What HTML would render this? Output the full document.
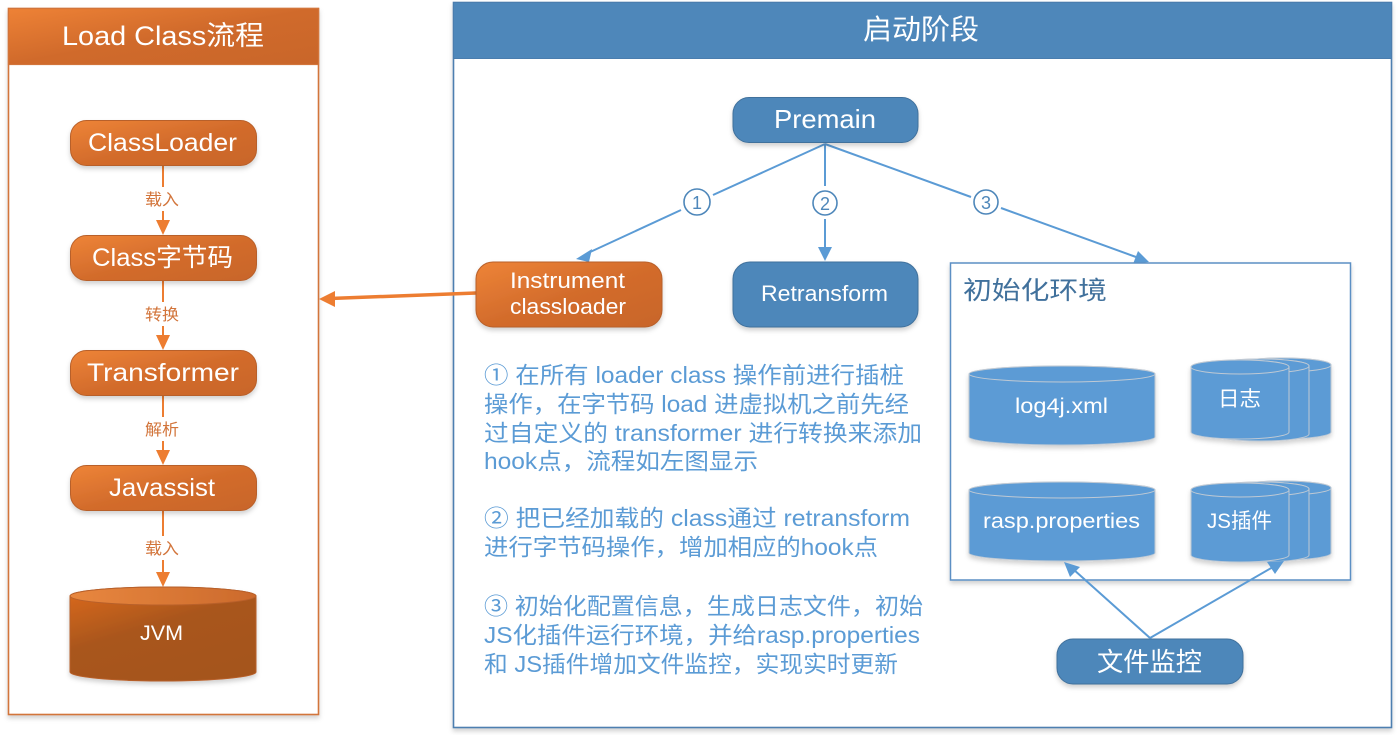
<!DOCTYPE html>
<html><head><meta charset="utf-8">
<style>
html,body{margin:0;padding:0;background:#fff;}
svg{display:block;}
text{font-family:"Liberation Sans","Noto Sans CJK SC",sans-serif;}
</style></head>
<body>
<svg width="1399" height="735" viewBox="0 0 1399 735" xmlns="http://www.w3.org/2000/svg">
<defs>
  <linearGradient id="og" x1="0" y1="0" x2="1" y2="1">
    <stop offset="0" stop-color="#EE8437"/>
    <stop offset="0.5" stop-color="#D36C2C"/>
    <stop offset="1" stop-color="#C8652A"/>
  </linearGradient>
  <linearGradient id="ohead" x1="0" y1="0" x2="1" y2="1">
    <stop offset="0" stop-color="#EE8236"/>
    <stop offset="0.5" stop-color="#D06A2B"/>
    <stop offset="1" stop-color="#C9662A"/>
  </linearGradient>
  <linearGradient id="jvm" x1="0" y1="0" x2="0.6" y2="1">
    <stop offset="0" stop-color="#DC6A1E"/>
    <stop offset="0.5" stop-color="#A9561F"/>
    <stop offset="1" stop-color="#A5541F"/>
  </linearGradient>
  <linearGradient id="jvmtop" x1="0" y1="0" x2="1" y2="0">
    <stop offset="0" stop-color="#E8873F"/>
    <stop offset="1" stop-color="#CC6A2C"/>
  </linearGradient>
  <filter id="sh" x="-10%" y="-10%" width="120%" height="140%">
    <feDropShadow dx="0" dy="3" stdDeviation="2.5" flood-color="#000" flood-opacity="0.18"/>
  </filter>
</defs>

<!-- LEFT PANEL -->
<rect x="8.5" y="8.5" width="310" height="706" fill="#fff" stroke="#D2743A" stroke-width="1.6" filter="url(#sh)"/>
<rect x="8.5" y="8.5" width="310" height="56" fill="url(#ohead)" stroke="#D2743A" stroke-width="1.2"/>
<text x="62" y="45" font-size="27" fill="#fff" textLength="202" lengthAdjust="spacingAndGlyphs">Load Class流程</text>

<!-- connectors left -->
<g stroke="#ED7D31" stroke-width="2" fill="none">
  <line x1="163" y1="166" x2="163" y2="187"/>
  <line x1="163" y1="211" x2="163" y2="222"/>
  <line x1="163" y1="281" x2="163" y2="302"/>
  <line x1="163" y1="326" x2="163" y2="337"/>
  <line x1="163" y1="396" x2="163" y2="417"/>
  <line x1="163" y1="441" x2="163" y2="452"/>
  <line x1="163" y1="511" x2="163" y2="536"/>
  <line x1="163" y1="560" x2="163" y2="574"/>
</g>
<g fill="#ED7D31">
  <path d="M156,220 L170,220 L163,235 Z"/>
  <path d="M156,335 L170,335 L163,350 Z"/>
  <path d="M156,450 L170,450 L163,465 Z"/>
  <path d="M156,572 L170,572 L163,587 Z"/>
</g>
<g font-size="16" fill="#D2743A">
  <text x="145" y="205" textLength="34" lengthAdjust="spacingAndGlyphs">载入</text>
  <text x="145" y="320" textLength="34" lengthAdjust="spacingAndGlyphs">转换</text>
  <text x="145" y="435" textLength="34" lengthAdjust="spacingAndGlyphs">解析</text>
  <text x="145" y="554" textLength="34" lengthAdjust="spacingAndGlyphs">载入</text>
</g>

<!-- orange nodes -->
<g filter="url(#sh)" stroke="#B8602A" stroke-width="1">
  <rect x="70.5" y="120.5" width="186" height="45" rx="16" fill="url(#og)"/>
  <rect x="70.5" y="235.5" width="186" height="45" rx="16" fill="url(#og)"/>
  <rect x="70.5" y="350.5" width="186" height="45" rx="16" fill="url(#og)"/>
  <rect x="70.5" y="465.5" width="186" height="45" rx="16" fill="url(#og)"/>
</g>
<g font-size="25" fill="#fff">
  <text x="88" y="151" textLength="149" lengthAdjust="spacingAndGlyphs">ClassLoader</text>
  <text x="92" y="266" textLength="141" lengthAdjust="spacingAndGlyphs">Class字节码</text>
  <text x="87" y="381" textLength="152" lengthAdjust="spacingAndGlyphs">Transformer</text>
  <text x="109" y="496" textLength="106" lengthAdjust="spacingAndGlyphs">Javassist</text>
</g>

<!-- JVM cylinder -->
<g filter="url(#sh)">
  <path d="M70,596 A93,9 0 0 1 256,596 L256,672 A93,9 0 0 1 70,672 Z" fill="url(#jvm)" stroke="#B8602A" stroke-width="1"/>
  <ellipse cx="163" cy="596" rx="93" ry="9" fill="url(#jvmtop)" stroke="#B8602A" stroke-width="1"/>
</g>
<text x="140" y="640" font-size="21" fill="#fff" textLength="43" lengthAdjust="spacingAndGlyphs">JVM</text>

<!-- RIGHT PANEL -->
<rect x="453.5" y="2.5" width="938" height="725" fill="#fff" stroke="#4E7FB0" stroke-width="1.6" filter="url(#sh)"/>
<rect x="453.5" y="2.5" width="938" height="56" fill="#4E87BA" stroke="#4A7DAE" stroke-width="1"/>
<text x="863" y="39" font-size="28" fill="#fff" textLength="116" lengthAdjust="spacingAndGlyphs">启动阶段</text>

<!-- orange arrow to left panel -->
<line x1="476" y1="293" x2="330" y2="298.5" stroke="#ED7D31" stroke-width="3.5"/>
<path d="M319,299 L335,291 L335,307 Z" fill="#ED7D31"/>

<!-- premain connectors -->
<g stroke="#5B9BD5" stroke-width="2" fill="none">
  <line x1="825" y1="144" x2="713" y2="195"/>
  <line x1="681" y1="210" x2="588" y2="253"/>
  <line x1="825" y1="144" x2="825" y2="186"/>
  <line x1="825" y1="219" x2="825" y2="248"/>
  <line x1="825" y1="144" x2="971" y2="197"/>
  <line x1="1001" y1="208" x2="1136" y2="257"/>
</g>
<g fill="#5B9BD5">
  <path d="M576,259 L592,249 L589,262 Z"/>
  <path d="M818,247 L832,247 L825,261 Z"/>
  <path d="M1149,262 L1133,264 L1138,251 Z"/>
</g>
<g fill="none" stroke="#4E87BA" stroke-width="1.6">
  <circle cx="697" cy="202" r="13"/>
  <circle cx="825" cy="203" r="12"/>
  <circle cx="986" cy="202" r="12"/>
</g>
<g font-size="18" fill="#4E87BA" text-anchor="middle">
  <text x="697" y="209">1</text>
  <text x="825" y="210">2</text>
  <text x="986" y="209">3</text>
</g>

<!-- Premain / Retransform / Instrument -->
<g filter="url(#sh)">
  <rect x="733" y="97.5" width="185" height="45" rx="16" fill="#4E87BA" stroke="#41719C" stroke-width="1"/>
  <rect x="733" y="262" width="185" height="65" rx="17" fill="#4E87BA" stroke="#41719C" stroke-width="1"/>
  <rect x="476" y="262" width="186" height="65" rx="17" fill="url(#og)" stroke="#B8602A" stroke-width="1"/>
</g>
<text x="774" y="128" font-size="26" fill="#fff" textLength="102" lengthAdjust="spacingAndGlyphs">Premain</text>
<text x="761" y="301" font-size="22" fill="#fff" textLength="127" lengthAdjust="spacingAndGlyphs">Retransform</text>
<text x="510" y="288" font-size="22" fill="#fff" textLength="115" lengthAdjust="spacingAndGlyphs">Instrument</text>
<text x="510" y="314" font-size="22" fill="#fff" textLength="116" lengthAdjust="spacingAndGlyphs">classloader</text>

<!-- description text -->
<g font-size="23" fill="#5B9BD5" lengthAdjust="spacingAndGlyphs">
  <text x="484" y="383" textLength="420" lengthAdjust="spacingAndGlyphs">① 在所有 loader class 操作前进行插桩</text>
  <text x="484" y="412" textLength="425" lengthAdjust="spacingAndGlyphs">操作，在字节码 load 进虚拟机之前先经</text>
  <text x="484" y="441" textLength="438" lengthAdjust="spacingAndGlyphs">过自定义的 transformer 进行转换来添加</text>
  <text x="484" y="469" textLength="274" lengthAdjust="spacingAndGlyphs">hook点，流程如左图显示</text>
  <text x="484" y="526" textLength="426" lengthAdjust="spacingAndGlyphs">② 把已经加载的 class通过 retransform</text>
  <text x="484" y="555" textLength="394" lengthAdjust="spacingAndGlyphs">进行字节码操作，增加相应的hook点</text>
  <text x="484" y="614" textLength="439" lengthAdjust="spacingAndGlyphs">③ 初始化配置信息，生成日志文件，初始</text>
  <text x="484" y="643" textLength="436" lengthAdjust="spacingAndGlyphs">JS化插件运行环境，并给rasp.properties</text>
  <text x="484" y="672" textLength="414" lengthAdjust="spacingAndGlyphs">和 JS插件增加文件监控，实现实时更新</text>
</g>

<!-- init env box -->
<rect x="950.5" y="263" width="400" height="317" fill="#fff" stroke="#5B8FC4" stroke-width="1.5" filter="url(#sh)"/>
<text x="963" y="299" font-size="25" fill="#41719C" textLength="144" lengthAdjust="spacingAndGlyphs">初始化环境</text>

<!-- cylinders -->
<g filter="url(#sh)" stroke="#BFC9D4" stroke-width="1" fill="#5B9BD5">
  <path d="M969,374 A93,8 0 0 1 1155,374 L1155,437 A93,8 0 0 1 969,437 Z"/>
  <ellipse cx="1062" cy="374" rx="93" ry="8"/>
  <path d="M969,490 A93,8 0 0 1 1155,490 L1155,553 A93,8 0 0 1 969,553 Z"/>
  <ellipse cx="1062" cy="490" rx="93" ry="8"/>
  <path d="M1233,365 A49,7 0 0 1 1331,365 L1331,432 A49,7 0 0 1 1233,432 Z"/>
  <ellipse cx="1282" cy="365" rx="49" ry="7"/>
  <path d="M1211,366 A49,7 0 0 1 1309,366 L1309,434 A49,7 0 0 1 1211,434 Z"/>
  <ellipse cx="1260" cy="366" rx="49" ry="7"/>
  <path d="M1191,367 A49,7 0 0 1 1289,367 L1289,432 A49,7 0 0 1 1191,432 Z"/>
  <ellipse cx="1240" cy="367" rx="49" ry="7"/>
  <path d="M1233,488 A49,7 0 0 1 1331,488 L1331,553 A49,7 0 0 1 1233,553 Z"/>
  <ellipse cx="1282" cy="488" rx="49" ry="7"/>
  <path d="M1211,489 A49,7 0 0 1 1309,489 L1309,555 A49,7 0 0 1 1211,555 Z"/>
  <ellipse cx="1260" cy="489" rx="49" ry="7"/>
  <path d="M1191,490 A49,7 0 0 1 1289,490 L1289,555 A49,7 0 0 1 1191,555 Z"/>
  <ellipse cx="1240" cy="490" rx="49" ry="7"/>
</g>
<g font-size="21" fill="#fff">
  <text x="1015" y="413" textLength="93" lengthAdjust="spacingAndGlyphs">log4j.xml</text>
  <text x="983" y="528" textLength="157" lengthAdjust="spacingAndGlyphs">rasp.properties</text>
  <text x="1218" y="406" textLength="43" lengthAdjust="spacingAndGlyphs">日志</text>
  <text x="1207" y="528" textLength="65" lengthAdjust="spacingAndGlyphs">JS插件</text>
</g>

<!-- file monitor -->
<g stroke="#5B9BD5" stroke-width="2" fill="none">
  <line x1="1150" y1="638" x2="1073" y2="569"/>
  <line x1="1150" y1="638" x2="1273" y2="567"/>
</g>
<g fill="#5B9BD5">
  <path d="M1064,562 L1080,567 L1070,577 Z"/>
  <path d="M1284,561 L1275,574 L1267,562 Z"/>
</g>
<rect x="1057" y="639" width="186" height="45" rx="16" fill="#4E87BA" stroke="#41719C" stroke-width="1" filter="url(#sh)"/>
<text x="1097" y="671" font-size="26" fill="#fff" textLength="105" lengthAdjust="spacingAndGlyphs">文件监控</text>
</svg>
</body></html>
